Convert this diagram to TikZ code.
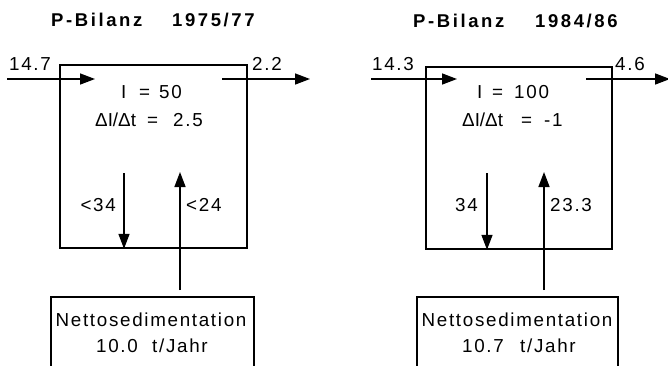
\documentclass[tikz,border=0pt]{standalone}
\usepackage{fontspec}
\usetikzlibrary{arrows.meta}
\newfontfamily\lab{Liberation Sans}[LetterSpace=9]
\newfontfamily\plain{Liberation Sans}
\newfontfamily\hdr{Liberation Sans Bold}[LetterSpace=14]
\begin{document}
\begin{tikzpicture}[x=1pt,y=-1pt,
  box/.style={draw, line width=1.8pt, inner sep=0pt},
  flow/.style={line width=1.5pt, -{Triangle[length=15pt,width=11pt]}},
  txt/.style={inner sep=0pt, anchor=base west, font=\lab\fontsize{18.8}{22}\selectfont},
  eqn/.style={inner sep=0pt, anchor=base west, font=\plain\fontsize{18.8}{22}\selectfont},
  ttl/.style={inner sep=0pt, anchor=base west, font=\hdr\fontsize{18.5}{22}\selectfont}]
\useasboundingbox (0,0) rectangle (668,365);
\clip (0,0) rectangle (668,365);

% ---------- balance 1975/77 ----------
\node[ttl] (t1) at (51,26) {P-Bilanz};
\node[ttl] (y1) at (172,26) {1975/77};
\node[box, anchor=north west, minimum width=187pt, minimum height=183pt] (b1) at (59,64) {};
\coordinate (in1a) at (7,79);   \coordinate (in1b) at (95,79);
\coordinate (out1a) at (222,79); \coordinate (out1b) at (310,79);
\draw[flow] (in1a) -- (in1b);
\draw[flow] (out1a) -- (out1b);
\node[txt] (l1in) at (9,70) {14.7};
\node[txt] (l1out) at (252,70) {2.2};
\node[txt] (i1a) at (121,98) {I};
\node[txt] (i1b) at (139,98) {=};
\node[txt] (i1c) at (159,98) {50};
\node[eqn] (d1a) at (95,126) {ΔI/Δt};
\node[txt] (d1b) at (147,126) {=};
\node[txt] (d1c) at (173,126) {2.5};
\coordinate (dn1) at (124,173);
\draw[flow] (dn1) -- (dn1 |- b1.south);
\coordinate (up1a) at (180,290); \coordinate (up1b) at (180,172);
\draw[flow] (up1a) -- (up1b);
\node[txt, anchor=base east] (l1dn) at (116,211) {<34};
\node[txt] (l1up) at (186,211) {<24};
\draw[box] (51,372) -- (51,297) -- (254,297) -- (254,372);
\node[txt, anchor=base] (n1) at (151,326) {Nettosedimentation};
\node[txt] (s1a) at (96,352) {10.0};
\node[txt] (s1b) at (152,352) {t/Jahr};

% ---------- balance 1984/86 ----------
\node[ttl] (t2) at (413,27) {P-Bilanz};
\node[ttl] (y2) at (535,27) {1984/86};
\node[box, anchor=north west, minimum width=186pt, minimum height=182pt] (b2) at (425,66) {};
\coordinate (in2a) at (371,79);  \coordinate (in2b) at (457,79);
\coordinate (out2a) at (586,79); \coordinate (out2b) at (670,79);
\draw[flow] (in2a) -- (in2b);
\draw[flow] (out2a) -- (out2b);
\node[txt] (l2in) at (372,70) {14.3};
\node[txt] (l2out) at (615,70) {4.6};
\node[txt] (i2a) at (477,98) {I};
\node[txt] (i2b) at (492,98) {=};
\node[txt] (i2c) at (514,98) {100};
\node[eqn] (d2a) at (462,126) {ΔI/Δt};
\node[txt] (d2b) at (521,126) {=};
\node[txt] (d2c) at (544,126) {-1};
\coordinate (dn2) at (487,173);
\draw[flow] (dn2) -- (dn2 |- b2.south);
\coordinate (up2a) at (544,290); \coordinate (up2b) at (544,172);
\draw[flow] (up2a) -- (up2b);
\node[txt, anchor=base east] (l2dn) at (478,211) {34};
\node[txt] (l2up) at (550,211) {23.3};
\draw[box] (417,372) -- (417,297) -- (618,297) -- (618,372);
\node[txt, anchor=base] (n2) at (517,326) {Nettosedimentation};
\node[txt] (s2a) at (462,352) {10.7};
\node[txt] (s2b) at (520,352) {t/Jahr};
\end{tikzpicture}
\end{document}
